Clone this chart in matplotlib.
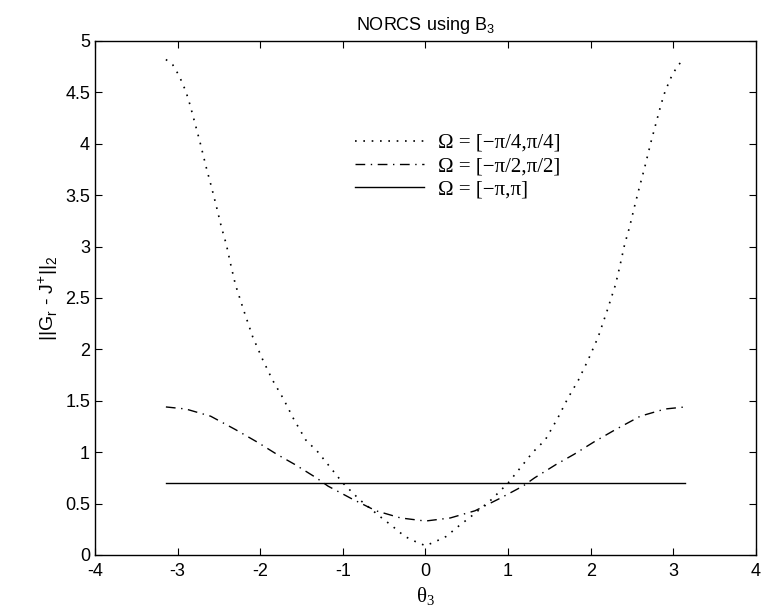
import numpy as np
import matplotlib
matplotlib.use('Agg')
import matplotlib.pyplot as plt
from matplotlib.ticker import FormatStrFormatter

plt.rcParams['font.family'] = ['Liberation Sans', 'DejaVu Sans']
plt.rcParams['mathtext.fontset'] = 'custom'
plt.rcParams['mathtext.rm'] = 'Liberation Sans'
plt.rcParams['axes.unicode_minus'] = False

# (curves are symmetric about theta = 0)
theta_quarter = [0.0, 0.12, 0.25, 0.40, 0.56, 0.80, 1.00, 1.10, 1.20, 1.30,
                 1.45, 1.60, 1.72, 1.85, 1.97, 2.09, 2.20, 2.30, 2.35, 2.41,
                 2.47, 2.53, 2.59, 2.65, 2.73, 2.79, 2.85, 2.90, 2.98, 3.06, np.pi]
err_quarter = [0.09, 0.13, 0.18, 0.28, 0.38, 0.54, 0.70, 0.80, 0.90, 1.00,
               1.12, 1.33, 1.52, 1.70, 1.90, 2.12, 2.38, 2.63, 2.80, 3.02,
               3.19, 3.39, 3.58, 3.76, 4.02, 4.20, 4.38, 4.51, 4.66, 4.77, 4.82]

theta_half = [0.0, 0.30, 0.60, 0.90, 1.18, 1.32, 1.58, 1.80, 2.04, 2.30,
              2.60, 2.90, np.pi]
err_half = [0.33, 0.36, 0.43, 0.55, 0.67, 0.75, 0.88, 0.98, 1.10, 1.22,
            1.35, 1.42, 1.44]

theta_full = [-np.pi, np.pi]
err_full = [0.70, 0.70]

labels = ['Ω = [−π/4,π/4]', 'Ω = [−π/2,π/2]', 'Ω = [−π,π]']


def mirror(x, y):
    x = np.asarray(x)
    y = np.asarray(y)
    return np.concatenate([-x[:0:-1], x]), np.concatenate([y[:0:-1], y])


fig = plt.figure(figsize=(7.64, 6.11), dpi=100)
ax = fig.add_axes([0.1243, 0.0917, 0.8652, 0.8412])

xq, yq = mirror(theta_quarter, err_quarter)
xh, yh = mirror(theta_half, err_half)
ax.plot(xq, yq, color='black', lw=1.2, linestyle=(0, (1, 4)), label=labels[0])
ax.plot(xh, yh, color='black', lw=1.0, linestyle=(0, (7, 4, 1, 4)), label=labels[1])
ax.plot(theta_full, err_full, color='black', lw=1.0, linestyle='-', label=labels[2])

ax.set_xlim(-4, 4)
ax.set_ylim(0, 5)
ax.set_xticks(np.arange(-4, 5, 1))
ax.set_yticks(np.arange(0, 5.01, 0.5))
ax.yaxis.set_major_formatter(FormatStrFormatter('%g'))
ax.tick_params(direction='in', top=True, right=True, length=5, labelsize=13)
ax.tick_params(axis='x', pad=6)
for sp in ax.spines.values():
    sp.set_linewidth(1.0)

ax.set_title(r'NORCS using B$_\mathregular{3}$', fontsize=13, pad=8)
ax.set_xlabel(r'θ$_\mathregular{3}$', fontsize=15, family='Liberation Serif')
ax.set_ylabel(r'||G$_\mathregular{r}$ - J$^\mathregular{+}$||$_\mathregular{2}$', fontsize=14)

ax.legend(loc='upper left', bbox_to_anchor=(0.365, 0.857), frameon=False,
          handlelength=3.3, handletextpad=0.7, labelspacing=0.18,
          prop={'family': 'Liberation Serif', 'size': 15})

fig.savefig('out.png', dpi=100, facecolor='white')
